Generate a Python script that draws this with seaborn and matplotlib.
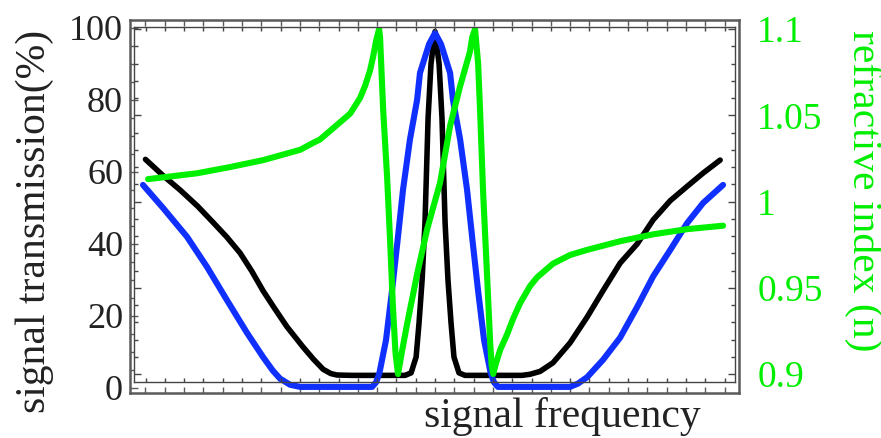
import matplotlib
matplotlib.use("Agg")
import matplotlib.pyplot as plt
import seaborn as sns
from matplotlib.ticker import MultipleLocator

# signal frequency (arbitrary units, 0 = line centre) and transmission (%)
freq_black = [-15.0, -14.09, -13.21, -12.3, -11.50, -10.80, -10.10, -9.5, -8.91, -8.3, -7.67,
              -6.84, -6.3, -5.80, -5.40, -5.08, -4.3,
              -1.55, -1.24, -0.98, -0.83, -0.67, -0.52, -0.36, -0.21, 0.0, 0.21, 0.36, 0.52,
              0.67, 0.83, 0.98, 1.24, 1.55, 4.5, 4.92, 5.44, 6.11, 6.99, 7.88, 8.70, 9.59,
              10.47, 11.30, 12.18, 13.06, 13.89, 14.77]
trans_black = [63.5, 59, 55, 50.5, 46, 42, 37.5, 32.5, 27, 22, 17,
               11.4, 8, 5.2, 4.0, 3.6, 3.5,
               3.5, 4.2, 8.6, 18, 30, 46, 75, 90, 99, 90, 75, 46,
               30, 18, 8.6, 4.2, 3.5, 3.5, 3.8, 4.6, 7, 12.5, 19.7, 27, 34.7,
               40, 46.7, 52, 56, 59.7, 63.3]

freq_blue = [-15.13, -14.09, -12.85, -11.81, -10.78, -9.74, -8.91, -8.4, -8.03, -7.51, -6.99,
             -3.26, -3.05, -2.88, -2.54, -2.23, -1.94, -1.66, -1.30, -0.93, -0.78, -0.31, 0.0,
             0.31, 0.78, 0.93, 1.30, 1.66, 1.94, 2.23, 2.54, 2.88, 3.05, 3.26,
             6.99, 7.4, 7.88, 8.70, 9.59, 10.47, 11.30, 12.18, 13.06, 13.89, 14.92]
trans_blue = [56.4, 50, 42, 33.6, 24.4, 15.3, 8.6, 4.8, 2.6, 0.9, 0.3,
              0.3, 1.6, 4.2, 13.3, 27, 41, 55, 69, 80, 87.5, 95.5, 98.6,
              95.5, 87.5, 80, 69, 55, 41, 27, 13.3, 4.2, 1.6, 0.3,
              0.3, 1.2, 3, 7.8, 14, 22.5, 31, 38.3, 45.8, 51.4, 56.4]

# refractive index (right axis)
freq_green = [-14.87, -12.33, -10.62, -8.91, -6.99, -6.32, -5.96, -5.44, -4.92, -4.40, -3.89,
              -3.63, -3.37, -3.21, -3.06, -2.90, -2.85, -2.69, -2.49, -2.33, -2.18, -2.05, -1.92,
              -1.75, -1.45, -0.93, -0.41,
              0.26, 0.78, 1.30, 1.81, 1.92, 2.07, 2.23, 2.33, 2.49, 2.69, 2.85, 2.93, 3.01,
              3.15, 3.37, 3.73, 4.04, 4.40, 4.92, 5.28, 6.11, 6.99, 7.88, 9.59, 11.30, 13.06, 14.92]
index_green = [1.013, 1.0164, 1.020, 1.024, 1.030, 1.034, 1.036, 1.041, 1.046, 1.051, 1.060,
               1.067, 1.076, 1.084, 1.093, 1.1, 1.095, 1.053, 1.015, 0.977, 0.938, 0.912, 0.9,
               0.911, 0.929, 0.958, 0.984,
               1.011, 1.044, 1.067, 1.087, 1.095, 1.1, 1.08, 1.053, 1.005, 0.958, 0.919, 0.905, 0.9,
               0.906, 0.914, 0.923, 0.932, 0.941, 0.951, 0.956, 0.964, 0.969, 0.972, 0.977, 0.981,
               0.984, 0.986]

left_ticks = [0, 20, 40, 60, 80, 100]
right_ticks = [0.9, 0.95, 1.0, 1.05, 1.1]
right_labels = ["0.9", "0.95", "1", "1.05", "1.1"]

GREEN = "#00ee00"
TEXT = "#222222"
FRAME = "#5a5a5a"

sns.set_theme(style="ticks")
plt.rcParams['font.family'] = ['Liberation Serif', 'DejaVu Serif']
plt.rcParams['xtick.direction'] = 'in'
plt.rcParams['ytick.direction'] = 'in'

fig = plt.figure(figsize=(8.81, 4.38), dpi=100)
ax = fig.add_axes([0.1476, 0.1027, 0.6913, 0.8516])
ax2 = fig.add_axes([0.1521, 0.1279, 0.6822, 0.8105], facecolor='none')

sns.lineplot(x=freq_black, y=trans_black, ax=ax, color='black', linewidth=4.0)
sns.lineplot(x=freq_blue, y=trans_blue, ax=ax, color='#1030ff', linewidth=4.4)
sns.lineplot(x=freq_green, y=index_green, ax=ax2, color='#00f000', linewidth=4.4)
for line in ax.lines + ax2.lines:
    line.set_solid_joinstyle('round')
    line.set_solid_capstyle('round')

# outer frame: transmission
ax.set_xlim(-15.80, 15.75)
ax.set_ylim(-1.4, 102.2)
ax.set_yticks(left_ticks)
ax.yaxis.set_minor_locator(MultipleLocator(5))
ax.xaxis.set_major_locator(MultipleLocator(1))
ax.tick_params(axis='x', which='major', bottom=True, top=True, labelbottom=False,
               length=4, width=1, color=FRAME)
ax.tick_params(axis='y', which='major', labelsize=26, length=6, width=1, pad=5,
               color=FRAME, labelcolor=TEXT)
ax.tick_params(axis='y', which='minor', length=3, width=1, color=FRAME)
for s in ax.spines.values():
    s.set_color(FRAME)
    s.set_linewidth(1.8)

# inner frame: refractive index
ax2.set_xlim(-15.6, 15.54)
ax2.set_ylim(0.8954, 1.1012)
ax2.yaxis.tick_right()
ax2.set_yticks(right_ticks)
ax2.set_yticklabels(right_labels)
ax2.yaxis.set_minor_locator(MultipleLocator(0.01))
ax2.xaxis.set_major_locator(MultipleLocator(1))
ax2.tick_params(axis='x', which='major', bottom=True, top=True, labelbottom=False,
                length=3, width=1, color='#444444')
ax2.tick_params(axis='y', which='both', left=True, right=True, color='#444444', width=1)
ax2.tick_params(axis='y', which='major', labelsize=27, labelcolor=GREEN, length=5, pad=16)
ax2.tick_params(axis='y', which='minor', length=3)
for s in ax2.spines.values():
    s.set_color('#444444')
    s.set_linewidth(1.0)

ax.set_ylabel('signal transmission(%)', fontsize=30, color=TEXT)
ax.yaxis.label.set_va('center')
ax.yaxis.set_label_coords(-0.156, 0.461)

ax.set_xlabel('signal frequency', fontsize=30, color=TEXT)
ax.xaxis.label.set_va('center')
ax.xaxis.set_label_coords(0.709, -0.062)

ax2.set_ylabel('refractive index (n)', fontsize=30, color=GREEN, rotation=270)
ax2.yaxis.set_label_position('right')
ax2.yaxis.label.set_va('center')
ax2.yaxis.set_label_coords(1.213, 0.538)

fig.savefig('out.png', dpi=100)
